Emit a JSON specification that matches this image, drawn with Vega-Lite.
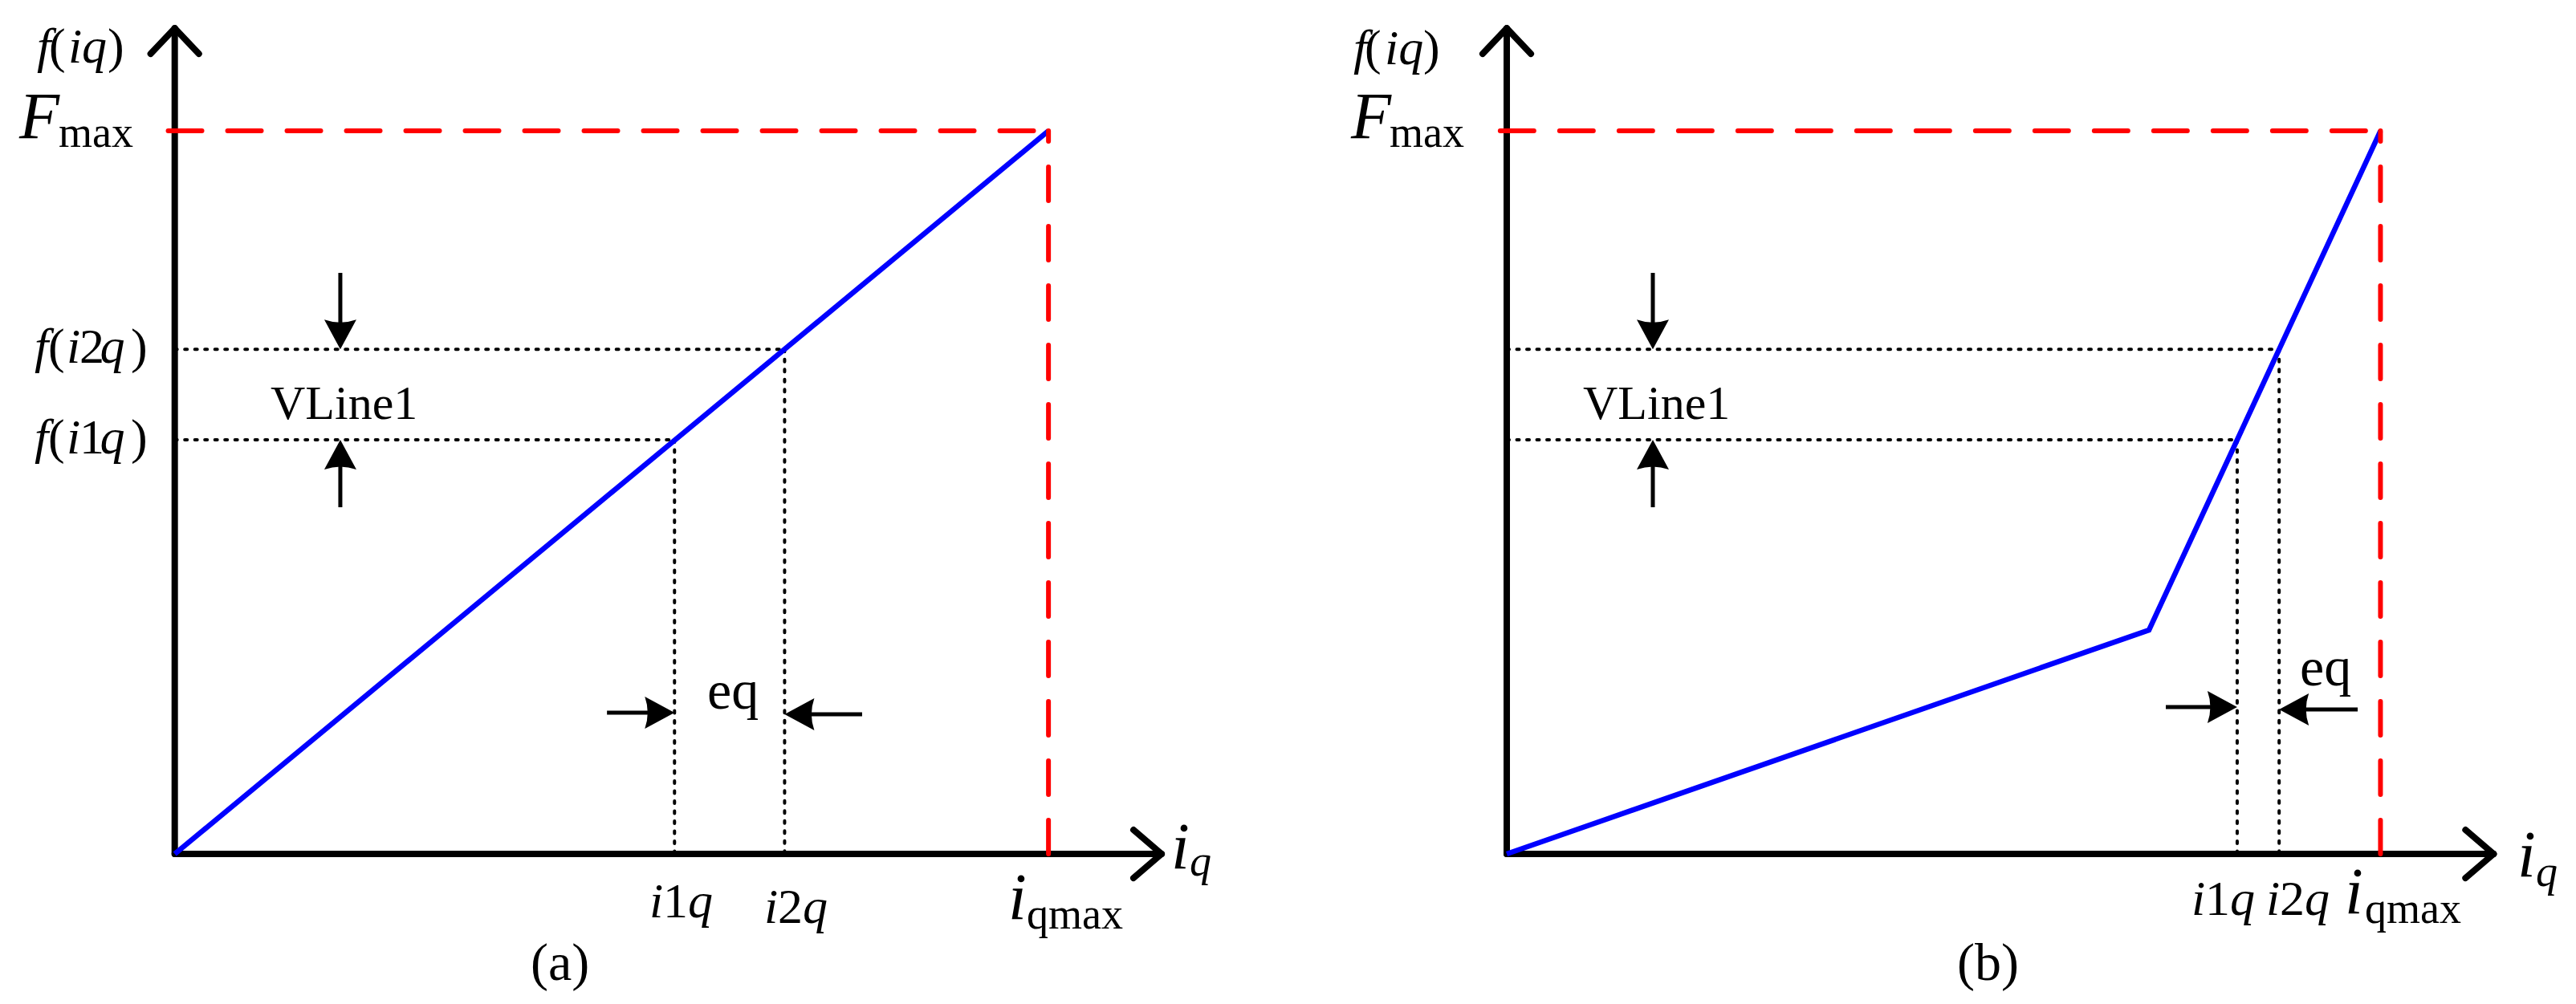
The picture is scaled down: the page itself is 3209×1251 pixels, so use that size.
{
  "$schema": "https://vega.github.io/schema/vega-lite/v6.json",
  "padding": 0,
  "spacing": 9,
  "background": "white",
  "config": {"view": {"stroke": null}, "font": "Liberation Serif"},
  "datasets": {
    "a_seg": [
      {"kind": "axis", "x": 0, "y": 0, "x2": 0, "y2": 1.142},
      {"kind": "axis", "x": 0, "y": 0, "x2": 1.1294, "y2": 0},
      {"kind": "axis", "x": -0.0276, "y": 1.1066, "x2": 0, "y2": 1.142},
      {"kind": "axis", "x": 0.0276, "y": 1.1066, "x2": 0, "y2": 1.142},
      {"kind": "axis", "x": 1.0973, "y": 0.0333, "x2": 1.1294, "y2": 0},
      {"kind": "axis", "x": 1.0973, "y": -0.0333, "x2": 1.1294, "y2": 0},
      {"kind": "guide", "x": 0, "y": 0.698, "x2": 0.698, "y2": 0.698},
      {"kind": "guide", "x": 0, "y": 0.5727, "x2": 0.572, "y2": 0.5727},
      {"kind": "guide", "x": 0.572, "y": 0.5727, "x2": 0.572, "y2": 0},
      {"kind": "guide", "x": 0.698, "y": 0.698, "x2": 0.698, "y2": 0},
      {"kind": "limit", "x": -0.0075, "y": 1, "x2": 1, "y2": 1},
      {"kind": "limit", "x": 1, "y": 0, "x2": 1, "y2": 1},
      {"kind": "shaft", "x": 0.1895, "y": 0.8036, "x2": 0.1895, "y2": 0.72},
      {"kind": "shaft", "x": 0.1895, "y": 0.4795, "x2": 0.1895, "y2": 0.55},
      {"kind": "shaft", "x": 0.4947, "y": 0.1953, "x2": 0.55, "y2": 0.1953},
      {"kind": "shaft", "x": 0.7867, "y": 0.1931, "x2": 0.72, "y2": 0.1931}
    ],
    "b_seg": [
      {"kind": "axis", "x": 0, "y": 0, "x2": 0, "y2": 1.142},
      {"kind": "axis", "x": 0, "y": 0, "x2": 1.1294, "y2": 0},
      {"kind": "axis", "x": -0.0276, "y": 1.1066, "x2": 0, "y2": 1.142},
      {"kind": "axis", "x": 0.0276, "y": 1.1066, "x2": 0, "y2": 1.142},
      {"kind": "axis", "x": 1.0973, "y": 0.0333, "x2": 1.1294, "y2": 0},
      {"kind": "axis", "x": 1.0973, "y": -0.0333, "x2": 1.1294, "y2": 0},
      {"kind": "guide", "x": 0, "y": 0.698, "x2": 0.884, "y2": 0.698},
      {"kind": "guide", "x": 0, "y": 0.5727, "x2": 0.836, "y2": 0.5727},
      {"kind": "guide", "x": 0.836, "y": 0.5727, "x2": 0.836, "y2": 0},
      {"kind": "guide", "x": 0.884, "y": 0.698, "x2": 0.884, "y2": 0},
      {"kind": "limit", "x": -0.0075, "y": 1, "x2": 1, "y2": 1},
      {"kind": "limit", "x": 1, "y": 0, "x2": 1, "y2": 1},
      {"kind": "shaft", "x": 0.1672, "y": 0.8036, "x2": 0.1672, "y2": 0.72},
      {"kind": "shaft", "x": 0.1672, "y": 0.4795, "x2": 0.1672, "y2": 0.55},
      {"kind": "shaft", "x": 0.7543, "y": 0.2031, "x2": 0.815, "y2": 0.2031},
      {"kind": "shaft", "x": 0.9739, "y": 0.1998, "x2": 0.905, "y2": 0.1998}
    ],
    "a_curve": [{"x": 0, "y": 0}, {"x": 1, "y": 1}],
    "b_curve": [{"x": 0, "y": 0}, {"x": 0.735, "y": 0.3097}, {"x": 1, "y": 1}],
    "a_head": [
      {"dir": "down", "x": 0.1895, "y": 0.698},
      {"dir": "up", "x": 0.1895, "y": 0.5727},
      {"dir": "right", "x": 0.572, "y": 0.1953},
      {"dir": "left", "x": 0.698, "y": 0.1931}
    ],
    "b_head": [
      {"dir": "down", "x": 0.1672, "y": 0.698},
      {"dir": "up", "x": 0.1672, "y": 0.5727},
      {"dir": "right", "x": 0.836, "y": 0.2031},
      {"dir": "left", "x": 0.884, "y": 0.1998}
    ],
    "a_txt": [
      {"role": "labeli", "x": -0.1577, "y": 1.0943, "text": "f"},
      {"role": "label", "x": -0.144, "y": 1.0943, "text": "("},
      {"role": "labeli", "x": -0.122, "y": 1.0943, "text": "iq"},
      {"role": "label", "x": -0.0769, "y": 1.0943, "text": ")"},
      {"role": "big", "x": -0.178, "y": 0.99, "text": "F"},
      {"role": "sub", "x": -0.133, "y": 0.9778, "text": "max"},
      {"role": "labeli", "x": -0.1605, "y": 0.6793, "text": "f"},
      {"role": "label", "x": -0.1449, "y": 0.6793, "text": "("},
      {"role": "labeli", "x": -0.1237, "y": 0.6793, "text": "i"},
      {"role": "label", "x": -0.109, "y": 0.6793, "text": "2"},
      {"role": "labeli", "x": -0.0856, "y": 0.6793, "text": "q"},
      {"role": "label", "x": -0.0502, "y": 0.6793, "text": ")"},
      {"role": "labeli", "x": -0.1605, "y": 0.5538, "text": "f"},
      {"role": "label", "x": -0.1449, "y": 0.5538, "text": "("},
      {"role": "labeli", "x": -0.1237, "y": 0.5538, "text": "i"},
      {"role": "label", "x": -0.109, "y": 0.5538, "text": "1"},
      {"role": "labeli", "x": -0.0856, "y": 0.5538, "text": "q"},
      {"role": "label", "x": -0.0502, "y": 0.5538, "text": ")"},
      {"role": "vlabel", "x": 0.1096, "y": 0.6016, "text": "VLine1"},
      {"role": "hlabel", "x": 0.6094, "y": 0.2009, "text": "eq"},
      {"role": "labeli", "x": 0.5433, "y": -0.0877, "text": "i"},
      {"role": "label", "x": 0.5589, "y": -0.0877, "text": "1"},
      {"role": "labeli", "x": 0.5873, "y": -0.0877, "text": "q"},
      {"role": "labeli", "x": 0.6746, "y": -0.0954, "text": "i"},
      {"role": "label", "x": 0.6902, "y": -0.0954, "text": "2"},
      {"role": "labeli", "x": 0.7187, "y": -0.0954, "text": "q"},
      {"role": "big", "x": 0.9539, "y": -0.0899, "text": "i"},
      {"role": "sub", "x": 0.9751, "y": -0.1032, "text": "qmax"},
      {"role": "big", "x": 1.1405, "y": -0.02, "text": "i"},
      {"role": "subi", "x": 1.1616, "y": -0.03, "text": "q"},
      {"role": "caption", "x": 0.4073, "y": -0.1743, "text": "(a)"}
    ],
    "b_txt": [
      {"role": "labeli", "x": -0.1755, "y": 1.0921, "text": "f"},
      {"role": "label", "x": -0.1626, "y": 1.0921, "text": "("},
      {"role": "labeli", "x": -0.1397, "y": 1.0921, "text": "iq"},
      {"role": "label", "x": -0.0955, "y": 1.0921, "text": ")"},
      {"role": "big", "x": -0.1782, "y": 0.99, "text": "F"},
      {"role": "sub", "x": -0.1341, "y": 0.9778, "text": "max"},
      {"role": "vlabel", "x": 0.0873, "y": 0.6016, "text": "VLine1"},
      {"role": "hlabel", "x": 0.9077, "y": 0.2331, "text": "eq"},
      {"role": "labeli", "x": 0.7837, "y": -0.0844, "text": "i"},
      {"role": "label", "x": 0.7993, "y": -0.0844, "text": "1"},
      {"role": "labeli", "x": 0.8278, "y": -0.0844, "text": "q"},
      {"role": "labeli", "x": 0.8691, "y": -0.0844, "text": "i"},
      {"role": "label", "x": 0.8848, "y": -0.0844, "text": "2"},
      {"role": "labeli", "x": 0.9132, "y": -0.0844, "text": "q"},
      {"role": "big", "x": 0.9592, "y": -0.0821, "text": "i"},
      {"role": "sub", "x": 0.9821, "y": -0.0954, "text": "qmax"},
      {"role": "big", "x": 1.1567, "y": -0.0311, "text": "i"},
      {"role": "subi", "x": 1.1778, "y": -0.0444, "text": "q"},
      {"role": "caption", "x": 0.5154, "y": -0.1743, "text": "(b)"}
    ]
  },
  "hconcat": [
    {
      "width": 1600,
      "height": 1251,
      "encoding": {
        "x": {"field": "x", "type": "quantitative", "scale": {"domain": [-0.2, 1.27], "nice": false, "zero": false}, "axis": null},
        "y": {"field": "y", "type": "quantitative", "scale": {"domain": [-0.2075, 1.181], "nice": false, "zero": false}, "axis": null}
      },
      "layer": [
        {"data": {"name": "a_seg"}, "transform": [{"filter": "datum.kind == 'axis'"}], "mark": {"type": "rule", "color": "black", "strokeWidth": 8, "strokeCap": "round"}, "encoding": {"x2": {"field": "x2"}, "y2": {"field": "y2"}}},
        {"data": {"name": "a_seg"}, "transform": [{"filter": "datum.kind == 'guide'"}], "mark": {"type": "rule", "color": "black", "strokeWidth": 4, "strokeCap": "round", "strokeDash": [3, 9.5]}, "encoding": {"x2": {"field": "x2"}, "y2": {"field": "y2"}}},
        {"data": {"name": "a_curve"}, "mark": {"type": "line", "color": "#0000FF", "strokeWidth": 6.5, "strokeJoin": "miter"}, "encoding": {}},
        {"data": {"name": "a_seg"}, "transform": [{"filter": "datum.kind == 'limit'"}], "mark": {"type": "rule", "color": "#FF0000", "strokeWidth": 6, "strokeCap": "round", "strokeDash": [42, 32]}, "encoding": {"x2": {"field": "x2"}, "y2": {"field": "y2"}}},
        {"data": {"name": "a_seg"}, "transform": [{"filter": "datum.kind == 'shaft'"}], "mark": {"type": "rule", "color": "black", "strokeWidth": 5}, "encoding": {"x2": {"field": "x2"}, "y2": {"field": "y2"}}},
        {"data": {"name": "a_head"}, "mark": {"type": "point", "filled": true, "color": "black", "opacity": 1, "size": 1600, "strokeWidth": 0}, "encoding": {"shape": {"field": "dir", "type": "nominal", "legend": null, "scale": {"domain": ["right", "left", "down", "up"], "range": ["M0,0L-1.85,-1Q-1.5,0,-1.85,1Z", "M0,0L1.85,-1Q1.5,0,1.85,1Z", "M0,0L-1,-1.85Q0,-1.5,1,-1.85Z", "M0,0L-1,1.85Q0,1.5,1,1.85Z"]}}}},
        {"data": {"name": "a_txt"}, "transform": [{"filter": "datum.role == 'label'"}], "mark": {"type": "text", "align": "left", "baseline": "alphabetic", "font": "Liberation Serif", "fontSize": 62, "color": "black"}, "encoding": {"text": {"field": "text"}}},
        {"data": {"name": "a_txt"}, "transform": [{"filter": "datum.role == 'labeli'"}], "mark": {"type": "text", "align": "left", "baseline": "alphabetic", "font": "Liberation Serif", "fontStyle": "italic", "fontSize": 62, "color": "black"}, "encoding": {"text": {"field": "text"}}},
        {"data": {"name": "a_txt"}, "transform": [{"filter": "datum.role == 'big'"}], "mark": {"type": "text", "align": "left", "baseline": "alphabetic", "font": "Liberation Serif", "fontStyle": "italic", "fontSize": 82, "color": "black"}, "encoding": {"text": {"field": "text"}}},
        {"data": {"name": "a_txt"}, "transform": [{"filter": "datum.role == 'sub'"}], "mark": {"type": "text", "align": "left", "baseline": "alphabetic", "font": "Liberation Serif", "fontSize": 54, "color": "black"}, "encoding": {"text": {"field": "text"}}},
        {"data": {"name": "a_txt"}, "transform": [{"filter": "datum.role == 'subi'"}], "mark": {"type": "text", "align": "left", "baseline": "alphabetic", "font": "Liberation Serif", "fontStyle": "italic", "fontSize": 54, "color": "black"}, "encoding": {"text": {"field": "text"}}},
        {"data": {"name": "a_txt"}, "transform": [{"filter": "datum.role == 'vlabel'"}], "mark": {"type": "text", "align": "left", "baseline": "alphabetic", "font": "Liberation Serif", "fontSize": 60, "color": "black"}, "encoding": {"text": {"field": "text"}}},
        {"data": {"name": "a_txt"}, "transform": [{"filter": "datum.role == 'hlabel'"}], "mark": {"type": "text", "align": "left", "baseline": "alphabetic", "font": "Liberation Serif", "fontSize": 68, "color": "black"}, "encoding": {"text": {"field": "text"}}},
        {"data": {"name": "a_txt"}, "transform": [{"filter": "datum.role == 'caption'"}], "mark": {"type": "text", "align": "left", "baseline": "alphabetic", "font": "Liberation Serif", "fontSize": 66, "color": "black"}, "encoding": {"text": {"field": "text"}}}
      ]
    },
    {
      "width": 1600,
      "height": 1251,
      "encoding": {
        "x": {"field": "x", "type": "quantitative", "scale": {"domain": [-0.24623, 1.22377], "nice": false, "zero": false}, "axis": null},
        "y": {"field": "y", "type": "quantitative", "scale": {"domain": [-0.2075, 1.181], "nice": false, "zero": false}, "axis": null}
      },
      "layer": [
        {"data": {"name": "b_seg"}, "transform": [{"filter": "datum.kind == 'axis'"}], "mark": {"type": "rule", "color": "black", "strokeWidth": 8, "strokeCap": "round"}, "encoding": {"x2": {"field": "x2"}, "y2": {"field": "y2"}}},
        {"data": {"name": "b_seg"}, "transform": [{"filter": "datum.kind == 'guide'"}], "mark": {"type": "rule", "color": "black", "strokeWidth": 4, "strokeCap": "round", "strokeDash": [3, 9.5]}, "encoding": {"x2": {"field": "x2"}, "y2": {"field": "y2"}}},
        {"data": {"name": "b_curve"}, "mark": {"type": "line", "color": "#0000FF", "strokeWidth": 6.5, "strokeJoin": "miter"}, "encoding": {}},
        {"data": {"name": "b_seg"}, "transform": [{"filter": "datum.kind == 'limit'"}], "mark": {"type": "rule", "color": "#FF0000", "strokeWidth": 6, "strokeCap": "round", "strokeDash": [42, 32]}, "encoding": {"x2": {"field": "x2"}, "y2": {"field": "y2"}}},
        {"data": {"name": "b_seg"}, "transform": [{"filter": "datum.kind == 'shaft'"}], "mark": {"type": "rule", "color": "black", "strokeWidth": 5}, "encoding": {"x2": {"field": "x2"}, "y2": {"field": "y2"}}},
        {"data": {"name": "b_head"}, "mark": {"type": "point", "filled": true, "color": "black", "opacity": 1, "size": 1600, "strokeWidth": 0}, "encoding": {"shape": {"field": "dir", "type": "nominal", "legend": null, "scale": {"domain": ["right", "left", "down", "up"], "range": ["M0,0L-1.85,-1Q-1.5,0,-1.85,1Z", "M0,0L1.85,-1Q1.5,0,1.85,1Z", "M0,0L-1,-1.85Q0,-1.5,1,-1.85Z", "M0,0L-1,1.85Q0,1.5,1,1.85Z"]}}}},
        {"data": {"name": "b_txt"}, "transform": [{"filter": "datum.role == 'label'"}], "mark": {"type": "text", "align": "left", "baseline": "alphabetic", "font": "Liberation Serif", "fontSize": 62, "color": "black"}, "encoding": {"text": {"field": "text"}}},
        {"data": {"name": "b_txt"}, "transform": [{"filter": "datum.role == 'labeli'"}], "mark": {"type": "text", "align": "left", "baseline": "alphabetic", "font": "Liberation Serif", "fontStyle": "italic", "fontSize": 62, "color": "black"}, "encoding": {"text": {"field": "text"}}},
        {"data": {"name": "b_txt"}, "transform": [{"filter": "datum.role == 'big'"}], "mark": {"type": "text", "align": "left", "baseline": "alphabetic", "font": "Liberation Serif", "fontStyle": "italic", "fontSize": 82, "color": "black"}, "encoding": {"text": {"field": "text"}}},
        {"data": {"name": "b_txt"}, "transform": [{"filter": "datum.role == 'sub'"}], "mark": {"type": "text", "align": "left", "baseline": "alphabetic", "font": "Liberation Serif", "fontSize": 54, "color": "black"}, "encoding": {"text": {"field": "text"}}},
        {"data": {"name": "b_txt"}, "transform": [{"filter": "datum.role == 'subi'"}], "mark": {"type": "text", "align": "left", "baseline": "alphabetic", "font": "Liberation Serif", "fontStyle": "italic", "fontSize": 54, "color": "black"}, "encoding": {"text": {"field": "text"}}},
        {"data": {"name": "b_txt"}, "transform": [{"filter": "datum.role == 'vlabel'"}], "mark": {"type": "text", "align": "left", "baseline": "alphabetic", "font": "Liberation Serif", "fontSize": 60, "color": "black"}, "encoding": {"text": {"field": "text"}}},
        {"data": {"name": "b_txt"}, "transform": [{"filter": "datum.role == 'hlabel'"}], "mark": {"type": "text", "align": "left", "baseline": "alphabetic", "font": "Liberation Serif", "fontSize": 68, "color": "black"}, "encoding": {"text": {"field": "text"}}},
        {"data": {"name": "b_txt"}, "transform": [{"filter": "datum.role == 'caption'"}], "mark": {"type": "text", "align": "left", "baseline": "alphabetic", "font": "Liberation Serif", "fontSize": 66, "color": "black"}, "encoding": {"text": {"field": "text"}}}
      ]
    }
  ]
}
